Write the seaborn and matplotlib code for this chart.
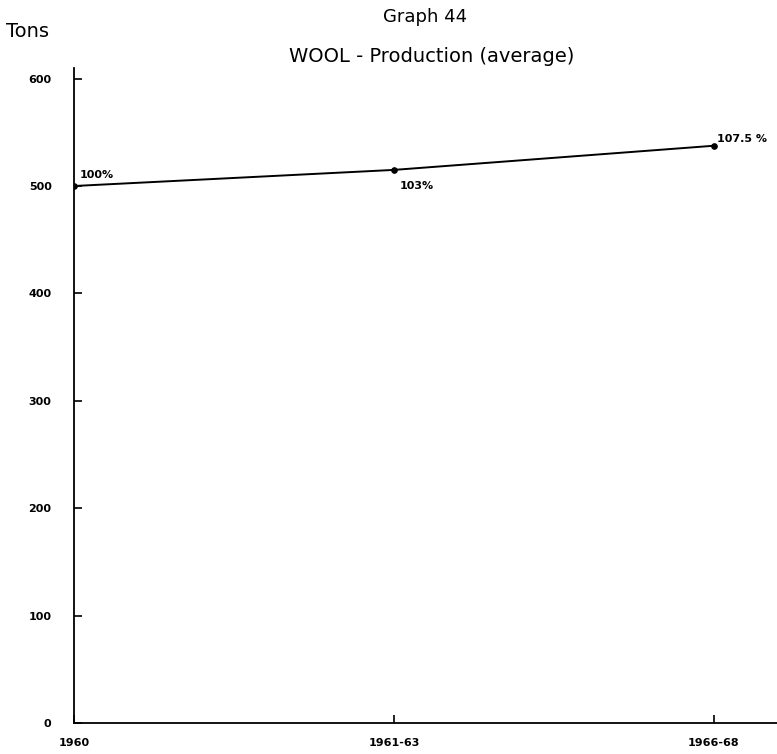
import matplotlib
matplotlib.use("Agg")
import matplotlib.pyplot as plt
import seaborn as sns
import pandas as pd

# dati
periodi = ["1960", "1961-63", "1966-68"]
tonnellate = [500, 515, 537.5]
etichette_perc = ["100%", "103%", "107.5 %"]
tick_y = [0, 100, 200, 300, 400, 500, 600]

df = pd.DataFrame({"periodo": periodi, "tonnellate": tonnellate})

sns.set_theme(style="ticks")
plt.rcParams["font.family"] = ["DejaVu Sans"]
plt.rcParams["text.color"] = "black"

fig = plt.figure(figsize=(7.77, 7.54), dpi=100)
ax = fig.add_axes([0.095, 0.041, 0.905, 0.869])

sns.lineplot(data=df, x="periodo", y="tonnellate", ax=ax, color="black",
             linewidth=1.4, marker="o", markersize=4, markeredgecolor="black")

ax.set_xlim(0, 2.197)
ax.set_ylim(0, 610)
ax.set_yticks(tick_y)
ax.set_yticklabels([str(t) for t in tick_y], fontsize=8, fontweight="bold")
ax.set_xticks(range(len(periodi)))
ax.set_xticklabels(periodi, fontsize=8, fontweight="bold")
# tacche verso l'interno come nell'originale
ax.tick_params(axis="y", direction="in", length=6, width=1.2, colors="black", pad=16)
ax.tick_params(axis="x", direction="in", length=6, width=1.2, colors="black", pad=11)
ax.set_xlabel("")
ax.set_ylabel("")
sns.despine(ax=ax)
ax.spines["left"].set_linewidth(1.3)
ax.spines["bottom"].set_linewidth(1.3)
ax.spines["left"].set_color("black")
ax.spines["bottom"].set_color("black")

# etichette percentuali
offsets = [(4, 6), (4, -14), (2, 3)]
for i, (lab, off) in enumerate(zip(etichette_perc, offsets)):
    ax.annotate(lab, (i, tonnellate[i]), xytext=off, textcoords="offset points",
                fontsize=8, fontweight="bold", ha="left", color="black")

fig.text(0.547, 0.978, "Graph 44", fontsize=13, ha="center", va="center")
fig.text(0.555, 0.925, "WOOL - Production (average)", fontsize=14, ha="center", va="center")
fig.text(0.036, 0.958, "Tons", fontsize=14, ha="center", va="center")

fig.savefig("out.png", dpi=100)
